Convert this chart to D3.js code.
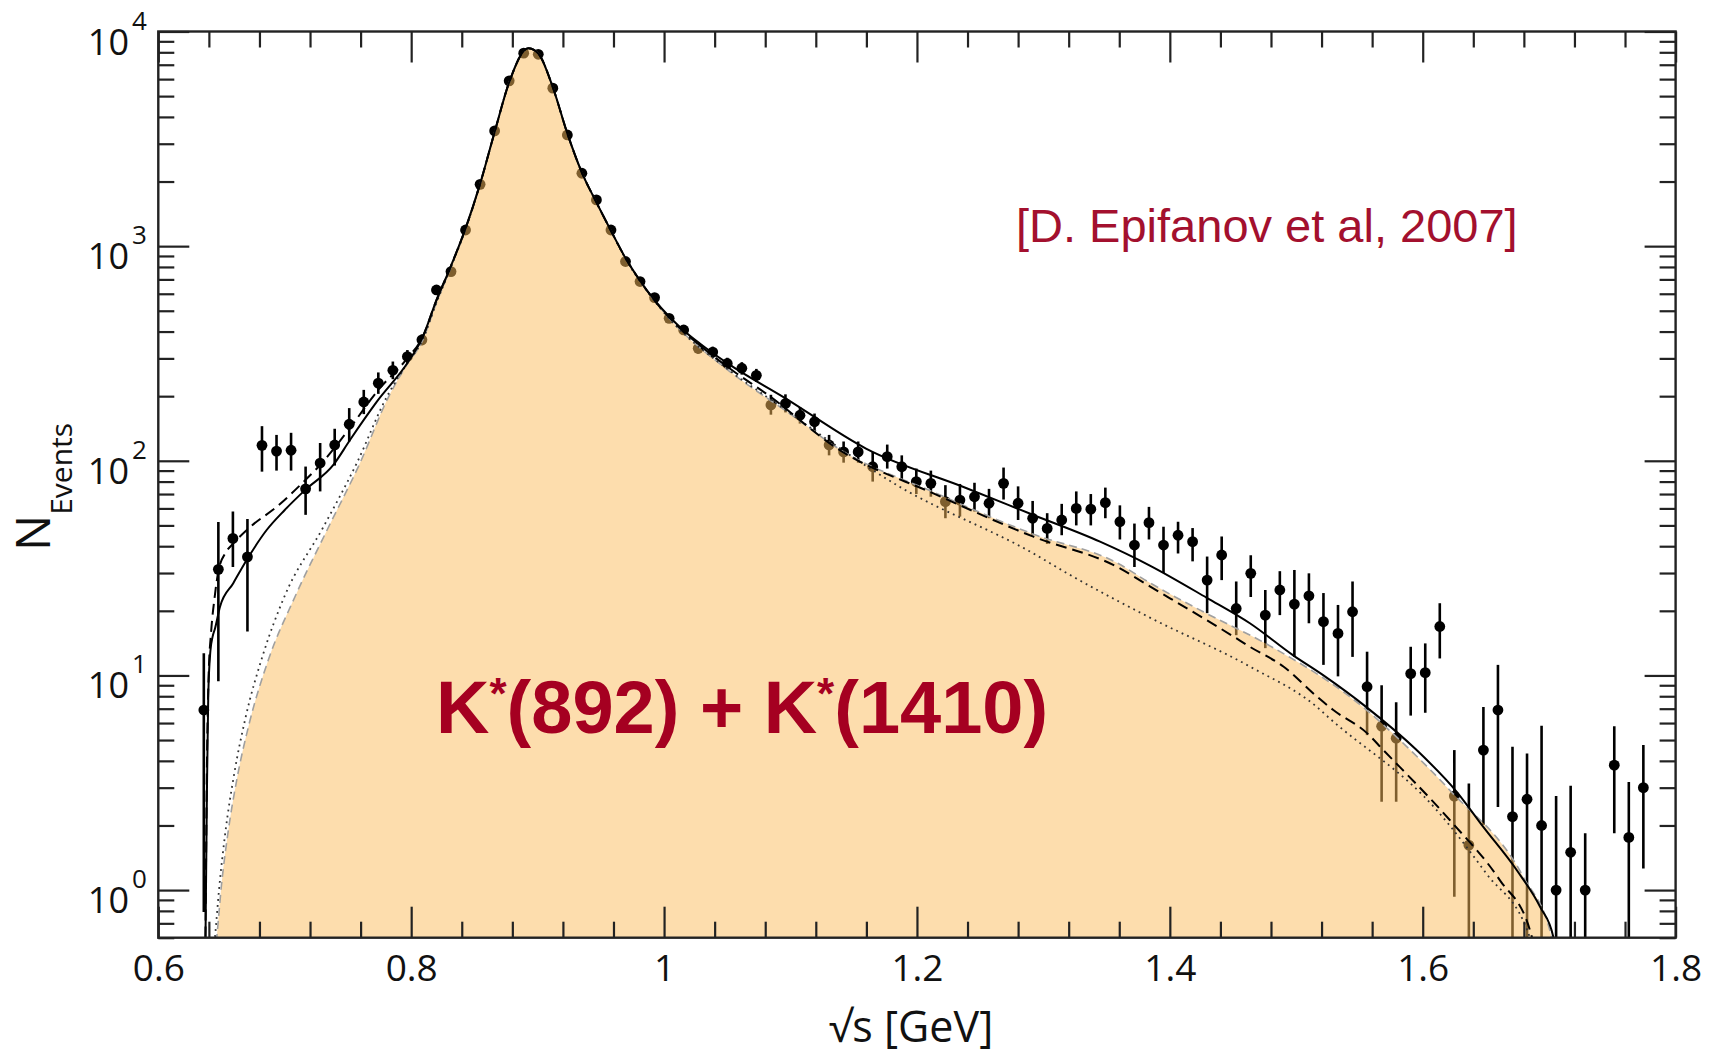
<!DOCTYPE html>
<html><head><meta charset="utf-8">
<script src="https://cdn.jsdelivr.net/npm/d3@7"></script>
<style>
html,body{margin:0;padding:0;background:#fff;}
svg{display:block;}
</style></head>
<body>
<svg id="chart" width="1721" height="1054"></svg>
<script>
// ---------- data ----------
const binCenters = [0.636,0.6475,0.659,0.6705,0.682,0.6935,0.705,0.7165,0.728,0.7395,
0.751,0.7625,0.774,0.7855,0.797,0.8085,0.82,0.8315,0.843,0.8545,
0.866,0.8775,0.889,0.9005,0.912,0.9235,0.935,0.9465,0.958,0.9695,
0.981,0.9925,1.004,1.0155,1.027,1.0385,1.05,1.0615,1.073,1.0845,
1.096,1.1075,1.119,1.1305,1.142,1.1535,1.165,1.1765,1.188,1.1995,
1.211,1.2225,1.234,1.2455,1.257,1.2685,1.28,1.2915,1.303,1.3145,
1.326,1.3375,1.349,1.3605,1.372,1.3835,1.395,1.4065,1.418,1.4295,
1.441,1.4525,1.464,1.4755,1.487,1.4985,1.51,1.5215,1.533,1.5445,
1.556,1.5675,1.579,1.5905,1.602,1.6135,1.625,1.6365,1.648,1.6595,
1.671,1.6825,1.694,1.7055,1.717,1.7285,1.7515,1.763,1.7745];
const counts = [6.9,31.2,43.5,35.7,118,111,112,74,97.6,118.5,
148,188,230,264,306,366,625,761,1189,1941,
3443,5890,7925,7830,5446,3296,2186,1642,1189,848,
684,576,461,407,334,321,284,270,250,182,
185,163,152,118.5,110,110,93.8,104.5,93.8,80,
78.5,64.5,65.6,68,63.4,78.5,63.4,54,48.4,53,
60,59.5,63.8,52,40.5,51.5,40.5,45,42,27.8,
36.4,20.5,29.9,19.1,25,21.5,23.5,17.8,15.7,19.8,
8.86,5.8,5.1,10.2,10.3,16.9,2.74,1.62,4.49,6.9,
2.2,2.65,2.0,1.0,1.5,1.0,3.82,1.76,3.0];
const errLow = [0.79,9.4,32,16,89,90,90,56,72,95,
123,165,205,240,285,345,600,735,1160,1900,
3390,5820,7840,7745,5375,3240,2140,1602,1155,820,
658,552,440,387,315,302,266,252,233,164,
168,149,139,106,98,98,80,92,82,70,
68,54,55,58,54,66,53,45,41,45,
50,50,54,43,32,43,30,37,34,19.5,
27.8,15.4,23.2,13.4,19.1,12.2,17.5,11.2,9.9,12.2,
5.27,2.58,2.58,6.5,6.7,12,0.93,0.3,2.01,2.44,
0.3,0.3,0.3,0.3,0.3,0.3,1.84,0.3,1.26];
const errHigh = [12.7,51.8,58,53.6,145,132,135,94,121,141,
176,214,258,290,328,388,650,787,1218,1982,
3496,5960,8010,7915,5517,3352,2232,1682,1223,876,
710,600,482,427,353,340,302,288,268,203,
204,178,166,132,123,123,110,119,106,92,
90,77,78,79,74,93,76,65,57,63,
72,70,75,62,51,61,49.3,52,48.6,35.8,
44.4,27.4,36.3,25,30.6,31,29.9,24.2,21.3,27.4,
12.9,9.0,7.5,13.6,14.1,21.7,4.49,3.14,7.13,11.2,
4.65,4.33,5.83,2.74,3.06,1.84,5.8,3.19,4.74];

// full fit (solid)
const fitTotal = [[0.6372,0.5],[0.6385,3],[0.6395,8],[0.6412,13],[0.643,15.2],[0.6448,16.5],[0.6488,20.9],[0.6593,26.9],[0.6699,34.5],[0.6857,47.6],[0.700,59],[0.716,73],[0.7386,96],[0.7516,125],[0.7727,188],[0.7978,290],[0.8085,370],[0.82,560],[0.8315,810],[0.843,1210],[0.8545,1950],[0.866,3400],[0.8775,5800],[0.8926,8350],[0.9005,7900],[0.912,5500],[0.9235,3350],[0.935,2200],[0.9465,1600],[0.958,1180],[0.9695,880],[0.981,690],[0.9925,560],[1.004,470],[1.0155,405],[1.0283,352],[1.05,285],[1.0957,196],[1.1597,114],[1.2393,74.5],[1.2921,55.9],[1.3448,42],[1.3842,32.5],[1.4292,23],[1.4633,17.5],[1.4976,12.4],[1.5215,10.0],[1.5557,7.1],[1.5952,4.49],[1.6269,2.87],[1.6479,1.97],[1.6743,1.24],[1.6928,0.836],[1.7033,0.605],[1.706,0.5]];
// alternative fit (dashed)
const fitAlt = [[0.6372,0.5],[0.6385,4],[0.6398,10],[0.6418,16],[0.6445,23],[0.6477,31],[0.6535,37.5],[0.6593,41.2],[0.6725,49.1],[0.6936,61],[0.716,81],[0.728,95.6],[0.7503,139],[0.7735,212],[0.7969,300],[0.8085,372],[0.82,560],[0.8315,810],[0.843,1210],[0.8545,1950],[0.866,3400],[0.8775,5800],[0.8926,8350],[0.9005,7900],[0.912,5500],[0.9235,3350],[0.935,2200],[0.9465,1600],[0.958,1180],[0.9695,880],[0.981,690],[0.9925,558],[1.004,466],[1.0283,345],[1.0547,262],[1.081,205],[1.139,112],[1.213,70.5],[1.2921,44.3],[1.358,32.1],[1.3842,26],[1.4502,15.2],[1.4633,13.6],[1.4898,11],[1.516,8.0],[1.5293,6.9],[1.5557,5.4],[1.5687,4.5],[1.6214,2.12],[1.6611,1.11],[1.6848,0.65],[1.69,0.5]];
// K*(892) only (dotted)
const fitK892 = [[0.6435,0.5],[0.6448,0.6],[0.648,1.0],[0.653,1.85],[0.66,3.47],[0.669,6.36],[0.683,12.6],[0.700,23.5],[0.730,48.5],[0.757,97.6],[0.7806,198],[0.797,285],[0.8085,360],[0.82,545],[0.8315,800],[0.843,1200],[0.8545,1950],[0.866,3400],[0.8775,5800],[0.8926,8350],[0.9005,7900],[0.912,5500],[0.9235,3350],[0.935,2200],[0.9465,1600],[0.958,1180],[0.9695,875],[0.981,685],[0.9925,555],[1.004,460],[1.05,268],[1.081,199],[1.1863,75.7],[1.2921,37],[1.3184,30],[1.3842,18.6],[1.4633,11],[1.516,7.15],[1.5265,6.3],[1.611,2.36],[1.65,1.2],[1.6848,0.6],[1.688,0.5]];
// K*(892) + K*(1410) (shaded)
const compK892K1410 = [[0.6448,0.5],[0.6462,0.6],[0.650,1.06],[0.655,1.83],[0.662,3.25],[0.672,6.0],[0.687,11.8],[0.708,23.2],[0.7335,47.6],[0.7595,97.6],[0.782,198],[0.797,283],[0.8085,358],[0.82,545],[0.8315,800],[0.843,1200],[0.8545,1950],[0.866,3400],[0.8775,5800],[0.8926,8350],[0.9005,7900],[0.912,5500],[0.9235,3350],[0.935,2200],[0.9465,1600],[0.958,1180],[0.9695,878],[0.981,688],[0.9925,557],[1.004,462],[1.05,266],[1.1,165],[1.139,113],[1.213,71.5],[1.2921,45.5],[1.358,33.5],[1.3842,27],[1.4264,19.8],[1.4766,14],[1.5423,7.96],[1.5557,6.9],[1.5687,5.9],[1.6214,2.92],[1.6796,1.15],[1.702,0.6],[1.705,0.5]];

const xMajorTicks = [0.6,0.8,1.0,1.2,1.4,1.6,1.8];
const xTickLabels = ["0.6","0.8","1","1.2","1.4","1.6","1.8"];
const yDecades = [1,10,100,1000,10000];
const yExponents = ["0","1","2","3","4"];

// ---------- layout ----------
const L = 158.3, R = 1675.6, T = 31.5, B = 937.7;
const svg = d3.select("#chart");
const x = d3.scaleLinear().domain([0.6, 1.8]).range([L, R]);
const y = d3.scaleLog().domain([0.6, 1e4]).range([B, T]);

svg.append("defs").append("clipPath").attr("id","plotclip")
  .append("rect").attr("x",L).attr("y",T).attr("width",R-L).attr("height",B-T);

const plot = svg.append("g").attr("clip-path","url(#plotclip)");

// data: error bars + points
const pts = binCenters.map((v,i)=>({x:v, n:counts[i], lo:errLow[i], hi:errHigh[i]}));
plot.append("g").selectAll("line").data(pts).join("line")
  .attr("x1",d=>x(d.x)).attr("x2",d=>x(d.x))
  .attr("y1",d=>y(Math.max(d.lo,0.3))).attr("y2",d=>y(d.hi))
  .attr("stroke","#000").attr("stroke-width",2.6);
plot.append("g").selectAll("circle").data(pts).join("circle")
  .attr("cx",d=>x(d.x)).attr("cy",d=>y(d.n)).attr("r",5.4).attr("fill","#000");

// shaded component
const area = d3.area().x(d=>x(d[0])).y0(B+5).y1(d=>y(d[1])).curve(d3.curveMonotoneX);
plot.append("path").datum(compK892K1410).attr("d",area)
  .attr("fill","rgb(251,188,92)").attr("fill-opacity",0.5);

const line = d3.line().x(d=>x(d[0])).y(d=>y(d[1])).curve(d3.curveMonotoneX);
plot.append("path").datum(compK892K1410).attr("d",line)
  .attr("fill","none").attr("stroke","#a0a0a0").attr("stroke-width",1.6).attr("stroke-dasharray","8,5");
plot.append("path").datum(fitK892).attr("d",line)
  .attr("fill","none").attr("stroke","#333").attr("stroke-width",1.8).attr("stroke-dasharray","1.8,4.2");
plot.append("path").datum(fitAlt).attr("d",line)
  .attr("fill","none").attr("stroke","#000").attr("stroke-width",2).attr("stroke-dasharray","11,6");
plot.append("path").datum(fitTotal).attr("d",line)
  .attr("fill","none").attr("stroke","#000").attr("stroke-width",2);

// ---------- axes / frame ----------
const axisColor = "#222";
const xMinor = d3.range(0.64, 1.8, 0.04).map(v=>+v.toFixed(2)).filter(v=>!xMajorTicks.some(m=>Math.abs(m-v)<1e-6));
const yMinor = [];
[0.1,1,10,100,1000].forEach(dec=>{ for(let k=2;k<=9;k++){ const v=k*dec; if(v>=0.6 && v<=1e4) yMinor.push(v); } });

function styleAxis(g){
  g.select(".domain").remove();
  g.selectAll(".tick line").attr("stroke",axisColor).attr("stroke-width",2.2);
}
// bottom
svg.append("g").attr("transform",`translate(0,${B})`)
  .call(d3.axisBottom(x).tickValues(xMinor).tickSize(-16).tickFormat("")).call(styleAxis);
svg.append("g").attr("transform",`translate(0,${B})`)
  .call(d3.axisBottom(x).tickValues(xMajorTicks).tickSize(-31).tickPadding(17)
    .tickFormat((d,i)=>xTickLabels[i])).call(styleAxis)
  .selectAll("text").attr("font-family","'Open Sans', sans-serif").attr("font-size",37).attr("fill","#111");
// top
svg.append("g").attr("transform",`translate(0,${T})`)
  .call(d3.axisTop(x).tickValues(xMinor).tickSize(-16).tickFormat("")).call(styleAxis);
svg.append("g").attr("transform",`translate(0,${T})`)
  .call(d3.axisTop(x).tickValues(xMajorTicks).tickSize(-31).tickFormat("")).call(styleAxis);
// left
svg.append("g").attr("transform",`translate(${L},0)`)
  .call(d3.axisLeft(y).tickValues(yMinor).tickSize(-16).tickFormat("")).call(styleAxis);
svg.append("g").attr("transform",`translate(${L},0)`)
  .call(d3.axisLeft(y).tickValues(yDecades).tickSize(-31).tickFormat("")).call(styleAxis);
// right
svg.append("g").attr("transform",`translate(${R},0)`)
  .call(d3.axisRight(y).tickValues(yMinor).tickSize(-16).tickFormat("")).call(styleAxis);
svg.append("g").attr("transform",`translate(${R},0)`)
  .call(d3.axisRight(y).tickValues(yDecades).tickSize(-31).tickFormat("")).call(styleAxis);

svg.append("rect").attr("x",L).attr("y",T).attr("width",R-L).attr("height",B-T)
  .attr("fill","none").attr("stroke",axisColor).attr("stroke-width",2.4);

// y tick labels 10^n
const ylab = svg.append("g").attr("font-family","'Open Sans', sans-serif").attr("fill","#111");
yDecades.forEach((v,i)=>{
  ylab.append("text").attr("x",129).attr("y",y(v)+23).attr("text-anchor","end")
    .attr("font-size",36).text("10");
  ylab.append("text").attr("x",132).attr("y",y(v)-2).attr("text-anchor","start")
    .attr("font-size",26).text(yExponents[i]);
});

// axis titles
svg.append("text").attr("x",911).attr("y",1042).attr("text-anchor","middle")
  .attr("font-family","'Open Sans', sans-serif").attr("font-size",43).attr("fill","#111")
  .text("\u221As [GeV]");
const yt = svg.append("text").attr("transform","translate(50,551) rotate(-90)")
  .attr("font-family","'Open Sans', sans-serif").attr("fill","#111");
yt.append("tspan").attr("font-size",48).text("N");
yt.append("tspan").attr("font-size",30).attr("dy",22).text("Events");

// annotations
svg.append("text").attr("x",1016).attr("y",242)
  .attr("font-family","'Liberation Sans', Arial, sans-serif").attr("font-size",47)
  .attr("fill","#A3102E").text("[D. Epifanov et al, 2007]");

const kt = svg.append("text").attr("x",436).attr("y",733)
  .attr("font-family","'Liberation Sans', Arial, sans-serif").attr("font-weight","bold")
  .attr("font-size",74).attr("fill","#A50021");
kt.append("tspan").text("K");
kt.append("tspan").attr("font-size",44).attr("dy",-24).text("*");
kt.append("tspan").attr("dy",24).text("(892) + K");
kt.append("tspan").attr("font-size",44).attr("dy",-24).text("*");
kt.append("tspan").attr("dy",24).text("(1410)");
</script>
</body></html>
